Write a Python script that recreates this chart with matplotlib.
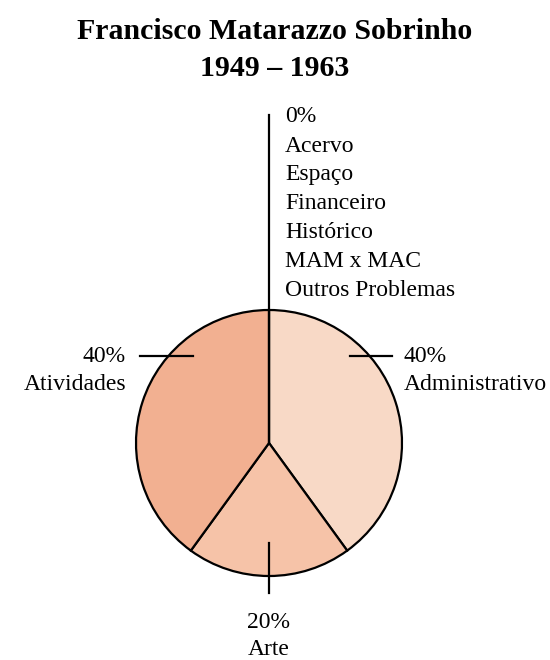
import matplotlib
matplotlib.use("Agg")
import matplotlib.pyplot as plt

plt.rcParams["font.family"] = ["Liberation Serif", "DejaVu Serif"]

title = "Francisco Matarazzo Sobrinho\n1949 – 1963"
categories = ["Administrativo", "Arte", "Atividades"]
values = [40, 20, 40]
colors = ["#F8D9C6", "#F6C3A8", "#F2B091"]
zero_categories = ["Acervo", "Espaço", "Financeiro", "Histórico", "MAM x MAC", "Outros Problemas"]

fig = plt.figure(figsize=(5.5, 6.6), dpi=100)
ax = fig.add_axes([0, 0, 1, 1])

cx, cy, r = 269, 443, 133
wedges, _ = ax.pie(values, colors=colors, startangle=90, counterclock=False,
                   center=(cx, cy), radius=r, frame=True,
                   wedgeprops=dict(edgecolor="black", linewidth=1.6))
ax.set_xlim(0, 550)
ax.set_ylim(660, 0)
ax.set_aspect("equal")
ax.axis("off")
# y axis is flipped (pixel-like coords), mirror wedge angles to keep clockwise order
for w in wedges:
    t1, t2 = w.theta1, w.theta2
    w.set_theta1(-t2)
    w.set_theta2(-t1)

fs = 17
# leader lines
ax.plot([cx, cx], [115, cy], color="black", lw=1.6)
ax.plot([350, 392], [356, 356], color="black", lw=1.6)
ax.plot([140, 193], [356, 356], color="black", lw=1.6)
ax.plot([cx, cx], [543, 593], color="black", lw=1.6)

# labels
ax.text(404, 356, "{}%".format(values[0]), fontsize=fs, ha="left", va="center")
ax.text(404, 385, categories[0], fontsize=fs, ha="left", va="center")
ax.text(126, 356, "{}%".format(values[2]), fontsize=fs, ha="right", va="center")
ax.text(126, 385, categories[2], fontsize=fs, ha="right", va="center")
ax.text(cx, 623, "{}%".format(values[1]), fontsize=fs, ha="center", va="center")
ax.text(cx, 655, categories[1], fontsize=fs, ha="center", va="baseline")

ax.text(285, 117, "0%", fontsize=fs, ha="left", va="center")
for i, name in enumerate(zero_categories):
    ax.text(285, 146 + i * 28.8, name, fontsize=fs, ha="left", va="center")

ax.text(275, 50, title, fontsize=21.5, fontweight="bold", ha="center", va="center",
        linespacing=1.45)

fig.savefig("out.png", dpi=100)
